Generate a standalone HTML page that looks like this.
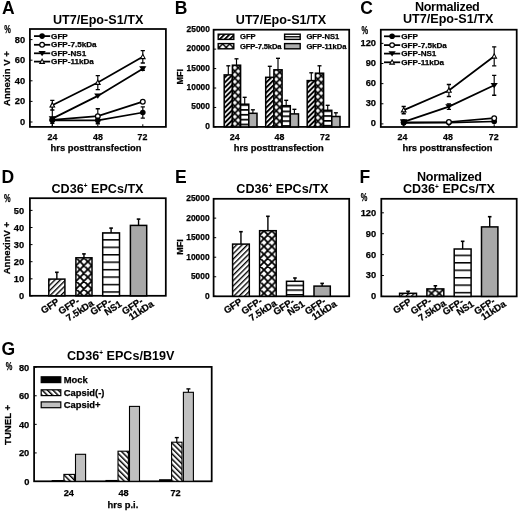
<!DOCTYPE html>
<html><head><meta charset="utf-8"><style>
html,body{margin:0;padding:0;background:#fff;}
svg{display:block;filter:blur(0.3px);font-family:"Liberation Sans", sans-serif;font-weight:bold;}
text{stroke:#000;stroke-width:0.25px;}
text.big{stroke:none;}
</style></head><body>
<svg width="520" height="511" viewBox="0 0 520 511">
<defs><clipPath id="c1"><rect x="29.8" y="28.8" width="136.29999999999998" height="97.2"/></clipPath><pattern id="p2" patternUnits="userSpaceOnUse" width="3.55" height="3.55" x="224.20" y="126.90" patternTransform="rotate(45 224.20 126.90)"><rect width="3.55" height="3.55" fill="#fff"/><rect width="1.95" height="3.55" fill="#000"/></pattern><pattern id="p3" patternUnits="userSpaceOnUse" width="7.0" height="7.0" x="234.75" y="67.70"><rect width="7.0" height="7.0" fill="#000"/><path d="M0,-2.3 L2.3,0 L0,2.3 L-2.3,0 Z M7.0,-2.3 L9.3,0 L7.0,2.3 L4.7,0 Z M0,4.7 L2.3,7.0 L0,9.3 L-2.3,7.0 Z M7.0,4.7 L9.3,7.0 L7.0,9.3 L4.7,7.0 Z M3.5,1.2000000000000002 L5.8,3.5 L3.5,5.8 L1.2000000000000002,3.5 Z" fill="#fff"/></pattern><pattern id="p4" patternUnits="userSpaceOnUse" width="20" height="4.85" x="0" y="104.20"><rect width="20" height="4.85" fill="#fff"/><rect width="20" height="1.7" fill="#000"/></pattern><pattern id="p5" patternUnits="userSpaceOnUse" width="3.55" height="3.55" x="265.70" y="126.90" patternTransform="rotate(45 265.70 126.90)"><rect width="3.55" height="3.55" fill="#fff"/><rect width="1.95" height="3.55" fill="#000"/></pattern><pattern id="p6" patternUnits="userSpaceOnUse" width="7.0" height="7.0" x="276.25" y="72.30"><rect width="7.0" height="7.0" fill="#000"/><path d="M0,-2.3 L2.3,0 L0,2.3 L-2.3,0 Z M7.0,-2.3 L9.3,0 L7.0,2.3 L4.7,0 Z M0,4.7 L2.3,7.0 L0,9.3 L-2.3,7.0 Z M7.0,4.7 L9.3,7.0 L7.0,9.3 L4.7,7.0 Z M3.5,1.2000000000000002 L5.8,3.5 L3.5,5.8 L1.2000000000000002,3.5 Z" fill="#fff"/></pattern><pattern id="p7" patternUnits="userSpaceOnUse" width="20" height="4.85" x="0" y="105.70"><rect width="20" height="4.85" fill="#fff"/><rect width="20" height="1.7" fill="#000"/></pattern><pattern id="p8" patternUnits="userSpaceOnUse" width="3.55" height="3.55" x="307.20" y="126.90" patternTransform="rotate(45 307.20 126.90)"><rect width="3.55" height="3.55" fill="#fff"/><rect width="1.95" height="3.55" fill="#000"/></pattern><pattern id="p9" patternUnits="userSpaceOnUse" width="7.0" height="7.0" x="317.75" y="75.70"><rect width="7.0" height="7.0" fill="#000"/><path d="M0,-2.3 L2.3,0 L0,2.3 L-2.3,0 Z M7.0,-2.3 L9.3,0 L7.0,2.3 L4.7,0 Z M0,4.7 L2.3,7.0 L0,9.3 L-2.3,7.0 Z M7.0,4.7 L9.3,7.0 L7.0,9.3 L4.7,7.0 Z M3.5,1.2000000000000002 L5.8,3.5 L3.5,5.8 L1.2000000000000002,3.5 Z" fill="#fff"/></pattern><pattern id="p10" patternUnits="userSpaceOnUse" width="20" height="4.85" x="0" y="110.30"><rect width="20" height="4.85" fill="#fff"/><rect width="20" height="1.7" fill="#000"/></pattern><pattern id="p11" patternUnits="userSpaceOnUse" width="3.55" height="3.55" x="218.20" y="39.40" patternTransform="rotate(45 218.20 39.40)"><rect width="3.55" height="3.55" fill="#fff"/><rect width="1.95" height="3.55" fill="#000"/></pattern><pattern id="p12" patternUnits="userSpaceOnUse" width="7.0" height="7.0" x="219.20" y="43.90"><rect width="7.0" height="7.0" fill="#000"/><path d="M0,-2.5 L2.5,0 L0,2.5 L-2.5,0 Z M7.0,-2.5 L9.5,0 L7.0,2.5 L4.5,0 Z M0,4.5 L2.5,7.0 L0,9.5 L-2.5,7.0 Z M7.0,4.5 L9.5,7.0 L7.0,9.5 L4.5,7.0 Z M3.5,1.0 L6.0,3.5 L3.5,6.0 L1.0,3.5 Z" fill="#fff"/></pattern><pattern id="p13" patternUnits="userSpaceOnUse" width="30" height="20" x="0" y="36.10"><rect width="30" height="20" fill="#fff"/><rect width="30" height="1.4" fill="#000"/></pattern><clipPath id="c14"><rect x="380.7" y="29.6" width="136.00000000000006" height="96.4"/></clipPath><pattern id="p15" patternUnits="userSpaceOnUse" width="3.8" height="3.8" x="48.80" y="295.80" patternTransform="rotate(45 48.80 295.80)"><rect width="3.8" height="3.8" fill="#fff"/><rect width="1.35" height="3.8" fill="#000"/></pattern><pattern id="p16" patternUnits="userSpaceOnUse" width="7.8" height="7.8" x="80.05" y="292.80"><rect width="7.8" height="7.8" fill="#fff"/><path d="M-7.8,-7.8 L15.6,15.6 M15.6,-7.8 L-7.8,15.6 M0,-7.8 L15.6,7.8 M-7.8,0 L7.8,15.6 M7.8,-7.8 L-7.8,7.8 M15.6,0 L0,15.6" stroke="#000" stroke-width="1.8"/></pattern><pattern id="p17" patternUnits="userSpaceOnUse" width="30" height="7.45" x="0" y="291.25"><rect width="30" height="7.45" fill="#fff"/><rect width="30" height="1.5" fill="#000"/></pattern><pattern id="p18" patternUnits="userSpaceOnUse" width="3.8" height="3.8" x="232.60" y="296.30" patternTransform="rotate(45 232.60 296.30)"><rect width="3.8" height="3.8" fill="#fff"/><rect width="1.35" height="3.8" fill="#000"/></pattern><pattern id="p19" patternUnits="userSpaceOnUse" width="7.8" height="7.8" x="264.00" y="293.30"><rect width="7.8" height="7.8" fill="#fff"/><path d="M-7.8,-7.8 L15.6,15.6 M15.6,-7.8 L-7.8,15.6 M0,-7.8 L15.6,7.8 M-7.8,0 L7.8,15.6 M7.8,-7.8 L-7.8,7.8 M15.6,0 L0,15.6" stroke="#000" stroke-width="1.8"/></pattern><pattern id="p20" patternUnits="userSpaceOnUse" width="30" height="4.7" x="0" y="294.05"><rect width="30" height="4.7" fill="#fff"/><rect width="30" height="1.5" fill="#000"/></pattern><pattern id="p21" patternUnits="userSpaceOnUse" width="3.8" height="3.8" x="399.60" y="296.40" patternTransform="rotate(45 399.60 296.40)"><rect width="3.8" height="3.8" fill="#fff"/><rect width="1.35" height="3.8" fill="#000"/></pattern><pattern id="p22" patternUnits="userSpaceOnUse" width="7.8" height="7.8" x="431.45" y="293.40"><rect width="7.8" height="7.8" fill="#fff"/><path d="M-7.8,-7.8 L15.6,15.6 M15.6,-7.8 L-7.8,15.6 M0,-7.8 L15.6,7.8 M-7.8,0 L7.8,15.6 M7.8,-7.8 L-7.8,7.8 M15.6,0 L0,15.6" stroke="#000" stroke-width="1.8"/></pattern><pattern id="p23" patternUnits="userSpaceOnUse" width="30" height="7.45" x="0" y="291.85"><rect width="30" height="7.45" fill="#fff"/><rect width="30" height="1.5" fill="#000"/></pattern><pattern id="p24" patternUnits="userSpaceOnUse" width="3.8" height="3.8" x="63.90" y="481.30" patternTransform="rotate(-45 63.90 481.30)"><rect width="3.8" height="3.8" fill="#fff"/><rect width="1.45" height="3.8" fill="#000"/></pattern><pattern id="p25" patternUnits="userSpaceOnUse" width="3.8" height="3.8" x="118.00" y="481.30" patternTransform="rotate(-45 118.00 481.30)"><rect width="3.8" height="3.8" fill="#fff"/><rect width="1.45" height="3.8" fill="#000"/></pattern><pattern id="p26" patternUnits="userSpaceOnUse" width="3.8" height="3.8" x="171.60" y="481.30" patternTransform="rotate(-45 171.60 481.30)"><rect width="3.8" height="3.8" fill="#fff"/><rect width="1.45" height="3.8" fill="#000"/></pattern><pattern id="p27" patternUnits="userSpaceOnUse" width="3.8" height="3.8" x="41.20" y="395.60" patternTransform="rotate(-45 41.20 395.60)"><rect width="3.8" height="3.8" fill="#fff"/><rect width="1.45" height="3.8" fill="#000"/></pattern></defs>
<rect width="520" height="511" fill="#fff"/>
<text class="big" x="1.9" y="13.7" font-size="17.5" text-anchor="start" >A</text>
<text class="big" x="98.1" y="24" font-size="12.6" text-anchor="middle" textLength="90.4" lengthAdjust="spacing" >UT7/Epo-S1/TX</text>
<text x="4.2" y="33.4" font-size="10" text-anchor="start" textLength="6.6" lengthAdjust="spacingAndGlyphs" >%</text>
<rect x="29.9" y="29.0" width="136.00" height="97.90" fill="none" stroke="#000" stroke-width="1.75"/>
<line x1="29.9" y1="122.00" x2="32.5" y2="122.00" stroke="#000" stroke-width="1"/>
<text x="25.1" y="125.05" font-size="9.3" text-anchor="end" >0</text>
<line x1="29.9" y1="101.40" x2="32.5" y2="101.40" stroke="#000" stroke-width="1"/>
<text x="25.1" y="104.45" font-size="9.3" text-anchor="end" >20</text>
<line x1="29.9" y1="80.80" x2="32.5" y2="80.80" stroke="#000" stroke-width="1"/>
<text x="25.1" y="83.85" font-size="9.3" text-anchor="end" >40</text>
<line x1="29.9" y1="60.20" x2="32.5" y2="60.20" stroke="#000" stroke-width="1"/>
<text x="25.1" y="63.25" font-size="9.3" text-anchor="end" >60</text>
<line x1="29.9" y1="39.60" x2="32.5" y2="39.60" stroke="#000" stroke-width="1"/>
<text x="25.1" y="42.65" font-size="9.3" text-anchor="end" >80</text>
<text x="52.4" y="140.2" font-size="8.8" text-anchor="middle" >24</text>
<text x="97.9" y="140.2" font-size="8.8" text-anchor="middle" >48</text>
<text x="142.4" y="140.2" font-size="8.8" text-anchor="middle" >72</text>
<line x1="52.3" y1="126.9" x2="52.3" y2="124.30000000000001" stroke="#000" stroke-width="1"/>
<line x1="97.8" y1="126.9" x2="97.8" y2="124.30000000000001" stroke="#000" stroke-width="1"/>
<line x1="142.8" y1="126.9" x2="142.8" y2="124.30000000000001" stroke="#000" stroke-width="1"/>
<text x="96.1" y="150.5" font-size="9.4" text-anchor="middle" textLength="91" lengthAdjust="spacing" >hrs posttransfection</text>
<text transform="translate(9.9,78.6) rotate(-90)" font-size="9.5" text-anchor="middle">Annexin V +</text>
<g clip-path="url(#c1)">
<polyline points="52.3,120.3 97.8,120.3 142.8,112.5" fill="none" stroke="#000" stroke-width="1.75"/>
<polyline points="52.3,119.8 97.8,116.2 142.8,101.7" fill="none" stroke="#000" stroke-width="1.75"/>
<polyline points="52.3,118.6 97.8,95.9 142.8,68.7" fill="none" stroke="#000" stroke-width="1.75"/>
<polyline points="52.3,105.2 97.8,82.6 142.8,56.8" fill="none" stroke="#000" stroke-width="1.75"/>
<line x1="52.30" y1="120.30" x2="52.30" y2="117.30" stroke="#000" stroke-width="1.15"/>
<line x1="50.20" y1="117.30" x2="54.40" y2="117.30" stroke="#000" stroke-width="1.3499999999999999"/>
<line x1="52.30" y1="120.30" x2="52.30" y2="123.30" stroke="#000" stroke-width="1.15"/>
<line x1="50.20" y1="123.30" x2="54.40" y2="123.30" stroke="#000" stroke-width="1.3499999999999999"/>
<line x1="97.80" y1="120.30" x2="97.80" y2="118.80" stroke="#000" stroke-width="1.15"/>
<line x1="95.70" y1="118.80" x2="99.90" y2="118.80" stroke="#000" stroke-width="1.3499999999999999"/>
<line x1="97.80" y1="120.30" x2="97.80" y2="121.80" stroke="#000" stroke-width="1.15"/>
<line x1="95.70" y1="121.80" x2="99.90" y2="121.80" stroke="#000" stroke-width="1.3499999999999999"/>
<line x1="142.80" y1="112.50" x2="142.80" y2="106.90" stroke="#000" stroke-width="1.15"/>
<line x1="140.70" y1="106.90" x2="144.90" y2="106.90" stroke="#000" stroke-width="1.3499999999999999"/>
<line x1="142.80" y1="112.50" x2="142.80" y2="118.10" stroke="#000" stroke-width="1.15"/>
<line x1="140.70" y1="118.10" x2="144.90" y2="118.10" stroke="#000" stroke-width="1.3499999999999999"/>
<line x1="97.80" y1="116.20" x2="97.80" y2="108.70" stroke="#000" stroke-width="1.15"/>
<line x1="95.70" y1="108.70" x2="99.90" y2="108.70" stroke="#000" stroke-width="1.3499999999999999"/>
<line x1="97.80" y1="116.20" x2="97.80" y2="123.70" stroke="#000" stroke-width="1.15"/>
<line x1="95.70" y1="123.70" x2="99.90" y2="123.70" stroke="#000" stroke-width="1.3499999999999999"/>
<line x1="52.30" y1="118.60" x2="52.30" y2="106.60" stroke="#000" stroke-width="1.15"/>
<line x1="50.20" y1="106.60" x2="54.40" y2="106.60" stroke="#000" stroke-width="1.3499999999999999"/>
<line x1="52.30" y1="118.60" x2="52.30" y2="130.60" stroke="#000" stroke-width="1.15"/>
<line x1="50.20" y1="130.60" x2="54.40" y2="130.60" stroke="#000" stroke-width="1.3499999999999999"/>
<line x1="142.80" y1="68.70" x2="142.80" y2="67.20" stroke="#000" stroke-width="1.15"/>
<line x1="140.70" y1="67.20" x2="144.90" y2="67.20" stroke="#000" stroke-width="1.3499999999999999"/>
<line x1="142.80" y1="68.70" x2="142.80" y2="70.20" stroke="#000" stroke-width="1.15"/>
<line x1="140.70" y1="70.20" x2="144.90" y2="70.20" stroke="#000" stroke-width="1.3499999999999999"/>
<line x1="52.30" y1="105.20" x2="52.30" y2="100.40" stroke="#000" stroke-width="1.15"/>
<line x1="50.20" y1="100.40" x2="54.40" y2="100.40" stroke="#000" stroke-width="1.3499999999999999"/>
<line x1="52.30" y1="105.20" x2="52.30" y2="110.00" stroke="#000" stroke-width="1.15"/>
<line x1="50.20" y1="110.00" x2="54.40" y2="110.00" stroke="#000" stroke-width="1.3499999999999999"/>
<line x1="97.80" y1="82.60" x2="97.80" y2="75.60" stroke="#000" stroke-width="1.15"/>
<line x1="95.70" y1="75.60" x2="99.90" y2="75.60" stroke="#000" stroke-width="1.3499999999999999"/>
<line x1="97.80" y1="82.60" x2="97.80" y2="89.60" stroke="#000" stroke-width="1.15"/>
<line x1="95.70" y1="89.60" x2="99.90" y2="89.60" stroke="#000" stroke-width="1.3499999999999999"/>
<line x1="142.80" y1="56.80" x2="142.80" y2="50.60" stroke="#000" stroke-width="1.15"/>
<line x1="140.70" y1="50.60" x2="144.90" y2="50.60" stroke="#000" stroke-width="1.3499999999999999"/>
<line x1="142.80" y1="56.80" x2="142.80" y2="63.00" stroke="#000" stroke-width="1.15"/>
<line x1="140.70" y1="63.00" x2="144.90" y2="63.00" stroke="#000" stroke-width="1.3499999999999999"/>
<circle cx="52.3" cy="119.8" r="2.3499999999999996" fill="#fff" stroke="#000" stroke-width="1.25"/>
<circle cx="97.8" cy="116.2" r="2.3499999999999996" fill="#fff" stroke="#000" stroke-width="1.25"/>
<circle cx="142.8" cy="101.7" r="2.3499999999999996" fill="#fff" stroke="#000" stroke-width="1.25"/>
<path d="M50.00,107.01 L54.60,107.01 L52.3,102.71 Z" fill="#fff" stroke="#000" stroke-width="1.1"/>
<path d="M95.50,84.41 L100.10,84.41 L97.8,80.11 Z" fill="#fff" stroke="#000" stroke-width="1.1"/>
<path d="M140.50,58.61 L145.10,58.61 L142.8,54.31 Z" fill="#fff" stroke="#000" stroke-width="1.1"/>
<path d="M48.66,116.21 L55.94,116.21 L52.3,121.53 Z" fill="#000"/>
<path d="M94.16,93.51 L101.44,93.51 L97.8,98.83 Z" fill="#000"/>
<path d="M139.16,66.31 L146.44,66.31 L142.8,71.63 Z" fill="#000"/>
<circle cx="52.3" cy="120.3" r="2.8" fill="#000"/>
<circle cx="97.8" cy="120.3" r="2.8" fill="#000"/>
<circle cx="142.8" cy="112.5" r="2.8" fill="#000"/>
</g>
<line x1="34" y1="36.1" x2="50.2" y2="36.1" stroke="#000" stroke-width="1.75"/>
<circle cx="42.1" cy="36.1" r="2.8" fill="#000"/>
<text x="51.1" y="38.5" font-size="8.1" text-anchor="start" >GFP</text>
<line x1="34" y1="44.8" x2="50.2" y2="44.8" stroke="#000" stroke-width="1.75"/>
<circle cx="42.1" cy="44.8" r="2.3499999999999996" fill="#fff" stroke="#000" stroke-width="1.25"/>
<text x="51.1" y="47.2" font-size="8.1" text-anchor="start" >GFP-7.5kDa</text>
<line x1="34" y1="53.3" x2="50.2" y2="53.3" stroke="#000" stroke-width="1.75"/>
<path d="M38.46,50.91 L45.74,50.91 L42.1,56.23 Z" fill="#000"/>
<text x="51.1" y="55.7" font-size="8.1" text-anchor="start" >GFP-NS1</text>
<line x1="34" y1="61.6" x2="50.2" y2="61.6" stroke="#000" stroke-width="1.75"/>
<path d="M39.80,63.41 L44.40,63.41 L42.1,59.11 Z" fill="#fff" stroke="#000" stroke-width="1.1"/>
<text x="51.1" y="64.0" font-size="8.1" text-anchor="start" >GFP-11kDa</text>
<text class="big" x="174.8" y="13.85" font-size="17.5" text-anchor="start" >B</text>
<text class="big" x="281.0" y="23.6" font-size="12.6" text-anchor="middle" textLength="90.4" lengthAdjust="spacing" >UT7/Epo-S1/TX</text>
<rect x="213.6" y="29.7" width="135.60" height="97.20" fill="none" stroke="#000" stroke-width="1.75"/>
<line x1="213.6" y1="126.90" x2="216.2" y2="126.90" stroke="#000" stroke-width="1"/>
<text x="209.9" y="128.92" font-size="8.4" text-anchor="end" >0</text>
<line x1="213.6" y1="107.46" x2="216.2" y2="107.46" stroke="#000" stroke-width="1"/>
<text x="209.9" y="109.48" font-size="8.4" text-anchor="end" >5000</text>
<line x1="213.6" y1="88.02" x2="216.2" y2="88.02" stroke="#000" stroke-width="1"/>
<text x="209.9" y="90.04" font-size="8.4" text-anchor="end" >10000</text>
<line x1="213.6" y1="68.58" x2="216.2" y2="68.58" stroke="#000" stroke-width="1"/>
<text x="209.9" y="70.6" font-size="8.4" text-anchor="end" >15000</text>
<line x1="213.6" y1="49.14" x2="216.2" y2="49.14" stroke="#000" stroke-width="1"/>
<text x="209.9" y="51.16" font-size="8.4" text-anchor="end" >20000</text>
<line x1="213.6" y1="29.70" x2="216.2" y2="29.70" stroke="#000" stroke-width="1"/>
<text x="209.9" y="31.72" font-size="8.4" text-anchor="end" >25000</text>
<text transform="translate(183.3,76.8) rotate(-90)" font-size="9" text-anchor="middle">MFI</text>
<text x="234.75" y="140.1" font-size="8.8" text-anchor="middle" >24</text>
<text x="279.5" y="140.1" font-size="8.8" text-anchor="middle" >48</text>
<text x="325.0" y="140.1" font-size="8.8" text-anchor="middle" >72</text>
<line x1="240.6" y1="126.9" x2="240.6" y2="124.30000000000001" stroke="#000" stroke-width="1"/>
<line x1="282.1" y1="126.9" x2="282.1" y2="124.30000000000001" stroke="#000" stroke-width="1"/>
<line x1="323.6" y1="126.9" x2="323.6" y2="124.30000000000001" stroke="#000" stroke-width="1"/>
<text x="278.75" y="150.5" font-size="9.4" text-anchor="middle" textLength="90" lengthAdjust="spacing" >hrs posttransfection</text>
<line x1="228.30" y1="74.90" x2="228.30" y2="65.80" stroke="#000" stroke-width="1.15"/>
<line x1="226.30" y1="65.80" x2="230.30" y2="65.80" stroke="#000" stroke-width="1.3499999999999999"/>
<rect x="224.20" y="74.90" width="8.20" height="52.00" fill="url(#p2)" stroke="#000" stroke-width="1.5"/>
<line x1="236.50" y1="65.20" x2="236.50" y2="58.80" stroke="#000" stroke-width="1.15"/>
<line x1="234.50" y1="58.80" x2="238.50" y2="58.80" stroke="#000" stroke-width="1.3499999999999999"/>
<rect x="232.40" y="65.20" width="8.20" height="61.70" fill="url(#p3)" stroke="#000" stroke-width="1.5"/>
<line x1="244.70" y1="104.20" x2="244.70" y2="97.30" stroke="#000" stroke-width="1.15"/>
<line x1="242.70" y1="97.30" x2="246.70" y2="97.30" stroke="#000" stroke-width="1.3499999999999999"/>
<rect x="240.60" y="104.20" width="8.20" height="22.70" fill="url(#p4)" stroke="#000" stroke-width="1.5"/>
<line x1="252.90" y1="113.30" x2="252.90" y2="109.80" stroke="#000" stroke-width="1.15"/>
<line x1="250.90" y1="109.80" x2="254.90" y2="109.80" stroke="#000" stroke-width="1.3499999999999999"/>
<rect x="248.80" y="113.30" width="8.20" height="13.60" fill="#adadad" stroke="#000" stroke-width="1.5"/>
<line x1="269.80" y1="77.30" x2="269.80" y2="66.30" stroke="#000" stroke-width="1.15"/>
<line x1="267.80" y1="66.30" x2="271.80" y2="66.30" stroke="#000" stroke-width="1.3499999999999999"/>
<rect x="265.70" y="77.30" width="8.20" height="49.60" fill="url(#p5)" stroke="#000" stroke-width="1.5"/>
<line x1="278.00" y1="69.80" x2="278.00" y2="58.30" stroke="#000" stroke-width="1.15"/>
<line x1="276.00" y1="58.30" x2="280.00" y2="58.30" stroke="#000" stroke-width="1.3499999999999999"/>
<rect x="273.90" y="69.80" width="8.20" height="57.10" fill="url(#p6)" stroke="#000" stroke-width="1.5"/>
<line x1="286.20" y1="105.70" x2="286.20" y2="100.30" stroke="#000" stroke-width="1.15"/>
<line x1="284.20" y1="100.30" x2="288.20" y2="100.30" stroke="#000" stroke-width="1.3499999999999999"/>
<rect x="282.10" y="105.70" width="8.20" height="21.20" fill="url(#p7)" stroke="#000" stroke-width="1.5"/>
<line x1="294.40" y1="113.90" x2="294.40" y2="109.30" stroke="#000" stroke-width="1.15"/>
<line x1="292.40" y1="109.30" x2="296.40" y2="109.30" stroke="#000" stroke-width="1.3499999999999999"/>
<rect x="290.30" y="113.90" width="8.20" height="13.00" fill="#adadad" stroke="#000" stroke-width="1.5"/>
<line x1="311.30" y1="80.60" x2="311.30" y2="72.80" stroke="#000" stroke-width="1.15"/>
<line x1="309.30" y1="72.80" x2="313.30" y2="72.80" stroke="#000" stroke-width="1.3499999999999999"/>
<rect x="307.20" y="80.60" width="8.20" height="46.30" fill="url(#p8)" stroke="#000" stroke-width="1.5"/>
<line x1="319.50" y1="73.20" x2="319.50" y2="65.80" stroke="#000" stroke-width="1.15"/>
<line x1="317.50" y1="65.80" x2="321.50" y2="65.80" stroke="#000" stroke-width="1.3499999999999999"/>
<rect x="315.40" y="73.20" width="8.20" height="53.70" fill="url(#p9)" stroke="#000" stroke-width="1.5"/>
<line x1="327.70" y1="110.30" x2="327.70" y2="105.30" stroke="#000" stroke-width="1.15"/>
<line x1="325.70" y1="105.30" x2="329.70" y2="105.30" stroke="#000" stroke-width="1.3499999999999999"/>
<rect x="323.60" y="110.30" width="8.20" height="16.60" fill="url(#p10)" stroke="#000" stroke-width="1.5"/>
<line x1="335.90" y1="116.50" x2="335.90" y2="112.80" stroke="#000" stroke-width="1.15"/>
<line x1="333.90" y1="112.80" x2="337.90" y2="112.80" stroke="#000" stroke-width="1.3499999999999999"/>
<rect x="331.80" y="116.50" width="8.20" height="10.40" fill="#adadad" stroke="#000" stroke-width="1.5"/>
<rect x="218.20" y="34.20" width="15.60" height="5.20" fill="url(#p11)" stroke="#000" stroke-width="1.4"/>
<text x="240.0" y="39.4" font-size="7.6" text-anchor="start" >GFP</text>
<rect x="218.20" y="43.60" width="15.60" height="5.20" fill="url(#p12)" stroke="#000" stroke-width="1.4"/>
<text x="240.0" y="48.8" font-size="7.6" text-anchor="start" textLength="41.5" lengthAdjust="spacing" >GFP-7.5kDa</text>
<rect x="284.60" y="34.20" width="15.60" height="5.20" fill="url(#p13)" stroke="#000" stroke-width="1.4"/>
<text x="306.4" y="39.4" font-size="7.6" text-anchor="start" >GFP-NS1</text>
<rect x="284.60" y="43.60" width="15.60" height="5.20" fill="#adadad" stroke="#000" stroke-width="1.4"/>
<text x="306.4" y="48.8" font-size="7.6" text-anchor="start" textLength="40" lengthAdjust="spacing" >GFP-11kDa</text>
<text class="big" x="360.2" y="13.7" font-size="17.5" text-anchor="start" >C</text>
<text class="big" x="447.4" y="10.8" font-size="12.6" text-anchor="middle" textLength="64.8" lengthAdjust="spacing" >Normalized</text>
<text class="big" x="448.1" y="22.8" font-size="12.6" text-anchor="middle" textLength="90.4" lengthAdjust="spacing" >UT7/Epo-S1/TX</text>
<text x="361.5" y="33.8" font-size="10" text-anchor="start" textLength="6.6" lengthAdjust="spacingAndGlyphs" >%</text>
<rect x="380.8" y="29.7" width="135.90" height="97.30" fill="none" stroke="#000" stroke-width="1.75"/>
<line x1="380.8" y1="123.90" x2="383.40000000000003" y2="123.90" stroke="#000" stroke-width="1"/>
<text x="376.0" y="126.35" font-size="9.3" text-anchor="end" >0</text>
<line x1="380.8" y1="103.77" x2="383.40000000000003" y2="103.77" stroke="#000" stroke-width="1"/>
<text x="376.0" y="106.22" font-size="9.3" text-anchor="end" >30</text>
<line x1="380.8" y1="83.64" x2="383.40000000000003" y2="83.64" stroke="#000" stroke-width="1"/>
<text x="376.0" y="86.09" font-size="9.3" text-anchor="end" >60</text>
<line x1="380.8" y1="63.51" x2="383.40000000000003" y2="63.51" stroke="#000" stroke-width="1"/>
<text x="376.0" y="65.96" font-size="9.3" text-anchor="end" >90</text>
<line x1="380.8" y1="43.38" x2="383.40000000000003" y2="43.38" stroke="#000" stroke-width="1"/>
<text x="376.0" y="45.83" font-size="9.3" text-anchor="end" >120</text>
<text x="402.5" y="140.1" font-size="8.8" text-anchor="middle" >24</text>
<text x="448.0" y="140.1" font-size="8.8" text-anchor="middle" >48</text>
<text x="493.75" y="140.1" font-size="8.8" text-anchor="middle" >72</text>
<line x1="403.7" y1="127.0" x2="403.7" y2="124.4" stroke="#000" stroke-width="1"/>
<line x1="448.9" y1="127.0" x2="448.9" y2="124.4" stroke="#000" stroke-width="1"/>
<line x1="494.2" y1="127.0" x2="494.2" y2="124.4" stroke="#000" stroke-width="1"/>
<text x="447.5" y="150.5" font-size="9.4" text-anchor="middle" textLength="90" lengthAdjust="spacing" >hrs posttransfection</text>
<g clip-path="url(#c14)">
<polyline points="403.7,122.8 448.9,122.6 494.2,121.5" fill="none" stroke="#000" stroke-width="1.75"/>
<polyline points="403.7,122.3 448.9,122.0 494.2,118.2" fill="none" stroke="#000" stroke-width="1.75"/>
<polyline points="403.7,121.9 448.9,106.6 494.2,85.3" fill="none" stroke="#000" stroke-width="1.75"/>
<polyline points="403.7,110.1 448.9,90.5 494.2,56.3" fill="none" stroke="#000" stroke-width="1.75"/>
<line x1="448.90" y1="106.60" x2="448.90" y2="103.80" stroke="#000" stroke-width="1.15"/>
<line x1="446.80" y1="103.80" x2="451.00" y2="103.80" stroke="#000" stroke-width="1.3499999999999999"/>
<line x1="448.90" y1="106.60" x2="448.90" y2="109.40" stroke="#000" stroke-width="1.15"/>
<line x1="446.80" y1="109.40" x2="451.00" y2="109.40" stroke="#000" stroke-width="1.3499999999999999"/>
<line x1="494.20" y1="85.30" x2="494.20" y2="75.40" stroke="#000" stroke-width="1.15"/>
<line x1="492.10" y1="75.40" x2="496.30" y2="75.40" stroke="#000" stroke-width="1.3499999999999999"/>
<line x1="494.20" y1="85.30" x2="494.20" y2="95.20" stroke="#000" stroke-width="1.15"/>
<line x1="492.10" y1="95.20" x2="496.30" y2="95.20" stroke="#000" stroke-width="1.3499999999999999"/>
<line x1="403.70" y1="110.10" x2="403.70" y2="106.50" stroke="#000" stroke-width="1.15"/>
<line x1="401.60" y1="106.50" x2="405.80" y2="106.50" stroke="#000" stroke-width="1.3499999999999999"/>
<line x1="403.70" y1="110.10" x2="403.70" y2="113.70" stroke="#000" stroke-width="1.15"/>
<line x1="401.60" y1="113.70" x2="405.80" y2="113.70" stroke="#000" stroke-width="1.3499999999999999"/>
<line x1="448.90" y1="90.50" x2="448.90" y2="84.50" stroke="#000" stroke-width="1.15"/>
<line x1="446.80" y1="84.50" x2="451.00" y2="84.50" stroke="#000" stroke-width="1.3499999999999999"/>
<line x1="448.90" y1="90.50" x2="448.90" y2="96.50" stroke="#000" stroke-width="1.15"/>
<line x1="446.80" y1="96.50" x2="451.00" y2="96.50" stroke="#000" stroke-width="1.3499999999999999"/>
<line x1="494.20" y1="56.30" x2="494.20" y2="46.80" stroke="#000" stroke-width="1.15"/>
<line x1="492.10" y1="46.80" x2="496.30" y2="46.80" stroke="#000" stroke-width="1.3499999999999999"/>
<line x1="494.20" y1="56.30" x2="494.20" y2="65.80" stroke="#000" stroke-width="1.15"/>
<line x1="492.10" y1="65.80" x2="496.30" y2="65.80" stroke="#000" stroke-width="1.3499999999999999"/>
<circle cx="403.7" cy="122.8" r="2.8" fill="#000"/>
<circle cx="448.9" cy="122.6" r="2.8" fill="#000"/>
<circle cx="494.2" cy="121.5" r="2.8" fill="#000"/>
<path d="M401.40,111.91 L406.00,111.91 L403.7,107.61 Z" fill="#fff" stroke="#000" stroke-width="1.1"/>
<path d="M446.60,92.31 L451.20,92.31 L448.9,88.01 Z" fill="#fff" stroke="#000" stroke-width="1.1"/>
<path d="M491.90,58.11 L496.50,58.11 L494.2,53.81 Z" fill="#fff" stroke="#000" stroke-width="1.1"/>
<path d="M400.06,119.51 L407.34,119.51 L403.7,124.83 Z" fill="#000"/>
<path d="M445.26,104.21 L452.54,104.21 L448.9,109.53 Z" fill="#000"/>
<path d="M490.56,82.91 L497.84,82.91 L494.2,88.23 Z" fill="#000"/>
<circle cx="403.7" cy="122.3" r="2.3499999999999996" fill="#fff" stroke="#000" stroke-width="1.25"/>
<circle cx="448.9" cy="122.0" r="2.3499999999999996" fill="#fff" stroke="#000" stroke-width="1.25"/>
<circle cx="494.2" cy="118.2" r="2.3499999999999996" fill="#fff" stroke="#000" stroke-width="1.25"/>
</g>
<path d="M400.06,119.51 L407.34,119.51 L403.7,124.83 Z" fill="#000"/>
<circle cx="403.7" cy="122.6" r="2.8" fill="#000"/>
<line x1="384" y1="36.3" x2="400.2" y2="36.3" stroke="#000" stroke-width="1.75"/>
<circle cx="392.1" cy="36.3" r="2.8" fill="#000"/>
<text x="401.3" y="38.7" font-size="8.1" text-anchor="start" >GFP</text>
<line x1="384" y1="45.1" x2="400.2" y2="45.1" stroke="#000" stroke-width="1.75"/>
<circle cx="392.1" cy="45.1" r="2.3499999999999996" fill="#fff" stroke="#000" stroke-width="1.25"/>
<text x="401.3" y="47.5" font-size="8.1" text-anchor="start" >GFP-7.5kDa</text>
<line x1="384" y1="53.6" x2="400.2" y2="53.6" stroke="#000" stroke-width="1.75"/>
<path d="M388.46,51.21 L395.74,51.21 L392.1,56.53 Z" fill="#000"/>
<text x="401.3" y="56.0" font-size="8.1" text-anchor="start" >GFP-NS1</text>
<line x1="384" y1="62.3" x2="400.2" y2="62.3" stroke="#000" stroke-width="1.75"/>
<path d="M389.80,64.11 L394.40,64.11 L392.1,59.81 Z" fill="#fff" stroke="#000" stroke-width="1.1"/>
<text x="401.3" y="64.7" font-size="8.1" text-anchor="start" >GFP-11kDa</text>
<text class="big" x="1.6" y="182.7" font-size="17.5" text-anchor="start" >D</text>
<text class="big" x="97.5" y="192.9" font-size="12.6" text-anchor="middle">CD36<tspan font-size="6.5" dy="-4.8">+</tspan><tspan dy="4.8"> EPCs/TX</tspan></text>
<text x="4.0" y="201.6" font-size="10" text-anchor="start" textLength="6.6" lengthAdjust="spacingAndGlyphs" >%</text>
<rect x="29.9" y="198.2" width="135.90" height="97.60" fill="none" stroke="#000" stroke-width="1.75"/>
<line x1="29.9" y1="295.90" x2="32.5" y2="295.90" stroke="#000" stroke-width="1"/>
<text x="24.2" y="299.15" font-size="9.3" text-anchor="end" >0</text>
<line x1="29.9" y1="278.80" x2="32.5" y2="278.80" stroke="#000" stroke-width="1"/>
<text x="24.2" y="282.05" font-size="9.3" text-anchor="end" >10</text>
<line x1="29.9" y1="261.70" x2="32.5" y2="261.70" stroke="#000" stroke-width="1"/>
<text x="24.2" y="264.95" font-size="9.3" text-anchor="end" >20</text>
<line x1="29.9" y1="244.60" x2="32.5" y2="244.60" stroke="#000" stroke-width="1"/>
<text x="24.2" y="247.85" font-size="9.3" text-anchor="end" >30</text>
<line x1="29.9" y1="227.50" x2="32.5" y2="227.50" stroke="#000" stroke-width="1"/>
<text x="24.2" y="230.75" font-size="9.3" text-anchor="end" >40</text>
<line x1="29.9" y1="210.40" x2="32.5" y2="210.40" stroke="#000" stroke-width="1"/>
<text x="24.2" y="213.65" font-size="9.3" text-anchor="end" >50</text>
<text transform="translate(10.0,248.1) rotate(-90)" font-size="9.6" text-anchor="middle">AnnexinV +</text>
<line x1="56.85" y1="279.10" x2="56.85" y2="272.30" stroke="#000" stroke-width="1.4"/>
<line x1="55.05" y1="272.30" x2="58.65" y2="272.30" stroke="#000" stroke-width="1.5999999999999999"/>
<rect x="48.80" y="279.10" width="16.10" height="16.70" fill="url(#p15)" stroke="#000" stroke-width="1.5"/>
<line x1="83.95" y1="257.80" x2="83.95" y2="253.90" stroke="#000" stroke-width="1.4"/>
<line x1="82.15" y1="253.90" x2="85.75" y2="253.90" stroke="#000" stroke-width="1.5999999999999999"/>
<rect x="75.90" y="257.80" width="16.10" height="38.00" fill="url(#p16)" stroke="#000" stroke-width="1.5"/>
<line x1="111.10" y1="232.90" x2="111.10" y2="228.10" stroke="#000" stroke-width="1.4"/>
<line x1="109.30" y1="228.10" x2="112.90" y2="228.10" stroke="#000" stroke-width="1.5999999999999999"/>
<rect x="102.70" y="232.90" width="16.80" height="62.90" fill="url(#p17)" stroke="#000" stroke-width="1.5"/>
<line x1="138.55" y1="225.40" x2="138.55" y2="219.10" stroke="#000" stroke-width="1.4"/>
<line x1="136.75" y1="219.10" x2="140.35" y2="219.10" stroke="#000" stroke-width="1.5999999999999999"/>
<rect x="130.40" y="225.40" width="16.30" height="70.40" fill="#a8a8a8" stroke="#000" stroke-width="1.5"/>
<text transform="translate(43.5,314.0) rotate(-33)" font-size="9.5">GFP</text>
<text transform="translate(61.0,314.8) rotate(-33)" font-size="9.5">GFP-</text>
<text transform="translate(68.8,321.5) rotate(-33)" font-size="9.5">7.5kDa</text>
<text transform="translate(93.0,315.5) rotate(-33)" font-size="9.5">GFP-</text>
<text transform="translate(107.0,315.8) rotate(-33)" font-size="9.5">NS1</text>
<text transform="translate(124.5,315.0) rotate(-33)" font-size="9.5">GFP-</text>
<text transform="translate(131.5,320.5) rotate(-33)" font-size="9.5">11kDa</text>
<text class="big" x="175.0" y="183.0" font-size="17.5" text-anchor="start" >E</text>
<text class="big" x="282.3" y="192.6" font-size="12.6" text-anchor="middle">CD36<tspan font-size="6.5" dy="-4.8">+</tspan><tspan dy="4.8"> EPCs/TX</tspan></text>
<rect x="213.6" y="198.8" width="135.60" height="97.50" fill="none" stroke="#000" stroke-width="1.75"/>
<line x1="213.6" y1="296.30" x2="216.2" y2="296.30" stroke="#000" stroke-width="1"/>
<text x="209.6" y="298.92" font-size="8.4" text-anchor="end" >0</text>
<line x1="213.6" y1="276.76" x2="216.2" y2="276.76" stroke="#000" stroke-width="1"/>
<text x="209.6" y="279.38" font-size="8.4" text-anchor="end" >5000</text>
<line x1="213.6" y1="257.22" x2="216.2" y2="257.22" stroke="#000" stroke-width="1"/>
<text x="209.6" y="259.84" font-size="8.4" text-anchor="end" >10000</text>
<line x1="213.6" y1="237.68" x2="216.2" y2="237.68" stroke="#000" stroke-width="1"/>
<text x="209.6" y="240.3" font-size="8.4" text-anchor="end" >15000</text>
<line x1="213.6" y1="218.14" x2="216.2" y2="218.14" stroke="#000" stroke-width="1"/>
<text x="209.6" y="220.76" font-size="8.4" text-anchor="end" >20000</text>
<line x1="213.6" y1="198.60" x2="216.2" y2="198.60" stroke="#000" stroke-width="1"/>
<text x="209.6" y="201.22" font-size="8.4" text-anchor="end" >25000</text>
<text transform="translate(183.2,247) rotate(-90)" font-size="9" text-anchor="middle">MFI</text>
<line x1="240.95" y1="244.10" x2="240.95" y2="231.70" stroke="#000" stroke-width="1.4"/>
<line x1="239.15" y1="231.70" x2="242.75" y2="231.70" stroke="#000" stroke-width="1.5999999999999999"/>
<rect x="232.60" y="244.10" width="16.70" height="52.20" fill="url(#p18)" stroke="#000" stroke-width="1.5"/>
<line x1="267.90" y1="230.70" x2="267.90" y2="216.30" stroke="#000" stroke-width="1.4"/>
<line x1="266.10" y1="216.30" x2="269.70" y2="216.30" stroke="#000" stroke-width="1.5999999999999999"/>
<rect x="259.60" y="230.70" width="16.60" height="65.60" fill="url(#p19)" stroke="#000" stroke-width="1.5"/>
<line x1="294.95" y1="281.30" x2="294.95" y2="278.00" stroke="#000" stroke-width="1.4"/>
<line x1="293.15" y1="278.00" x2="296.75" y2="278.00" stroke="#000" stroke-width="1.5999999999999999"/>
<rect x="286.50" y="281.30" width="16.90" height="15.00" fill="url(#p20)" stroke="#000" stroke-width="1.5"/>
<line x1="322.15" y1="286.10" x2="322.15" y2="283.40" stroke="#000" stroke-width="1.4"/>
<line x1="320.35" y1="283.40" x2="323.95" y2="283.40" stroke="#000" stroke-width="1.5999999999999999"/>
<rect x="314.00" y="286.10" width="16.30" height="10.20" fill="#a8a8a8" stroke="#000" stroke-width="1.5"/>
<text transform="translate(226.4,314.0) rotate(-33)" font-size="9.5">GFP</text>
<text transform="translate(243.9,314.8) rotate(-33)" font-size="9.5">GFP-</text>
<text transform="translate(251.7,321.5) rotate(-33)" font-size="9.5">7.5kDa</text>
<text transform="translate(275.9,315.5) rotate(-33)" font-size="9.5">GFP-</text>
<text transform="translate(289.9,315.8) rotate(-33)" font-size="9.5">NS1</text>
<text transform="translate(307.4,315.0) rotate(-33)" font-size="9.5">GFP-</text>
<text transform="translate(314.4,320.5) rotate(-33)" font-size="9.5">11kDa</text>
<text class="big" x="359.6" y="183.0" font-size="17.5" text-anchor="start" >F</text>
<text class="big" x="449.5" y="180.6" font-size="12.6" text-anchor="middle" textLength="64.8" lengthAdjust="spacing" >Normalized</text>
<text class="big" x="448.9" y="193.4" font-size="12.6" text-anchor="middle">CD36<tspan font-size="6.5" dy="-4.8">+</tspan><tspan dy="4.8"> EPCs/TX</tspan></text>
<text x="360.8" y="201.2" font-size="10" text-anchor="start" textLength="6.6" lengthAdjust="spacingAndGlyphs" >%</text>
<rect x="381.3" y="198.8" width="135.40" height="97.60" fill="none" stroke="#000" stroke-width="1.75"/>
<line x1="381.3" y1="296.40" x2="383.90000000000003" y2="296.40" stroke="#000" stroke-width="1"/>
<text x="376.2" y="299.35" font-size="9.3" text-anchor="end" >0</text>
<line x1="381.3" y1="275.50" x2="383.90000000000003" y2="275.50" stroke="#000" stroke-width="1"/>
<text x="376.2" y="278.45" font-size="9.3" text-anchor="end" >30</text>
<line x1="381.3" y1="254.60" x2="383.90000000000003" y2="254.60" stroke="#000" stroke-width="1"/>
<text x="376.2" y="257.55" font-size="9.3" text-anchor="end" >60</text>
<line x1="381.3" y1="233.70" x2="383.90000000000003" y2="233.70" stroke="#000" stroke-width="1"/>
<text x="376.2" y="236.65" font-size="9.3" text-anchor="end" >90</text>
<line x1="381.3" y1="212.80" x2="383.90000000000003" y2="212.80" stroke="#000" stroke-width="1"/>
<text x="376.2" y="215.75" font-size="9.3" text-anchor="end" >120</text>
<line x1="408.05" y1="293.30" x2="408.05" y2="291.30" stroke="#000" stroke-width="1.4"/>
<line x1="406.25" y1="291.30" x2="409.85" y2="291.30" stroke="#000" stroke-width="1.5999999999999999"/>
<rect x="399.60" y="293.30" width="16.90" height="3.10" fill="url(#p21)" stroke="#000" stroke-width="1.5"/>
<line x1="435.35" y1="288.90" x2="435.35" y2="285.80" stroke="#000" stroke-width="1.4"/>
<line x1="433.55" y1="285.80" x2="437.15" y2="285.80" stroke="#000" stroke-width="1.5999999999999999"/>
<rect x="426.90" y="288.90" width="16.90" height="7.50" fill="url(#p22)" stroke="#000" stroke-width="1.5"/>
<line x1="462.65" y1="249.00" x2="462.65" y2="241.30" stroke="#000" stroke-width="1.4"/>
<line x1="460.85" y1="241.30" x2="464.45" y2="241.30" stroke="#000" stroke-width="1.5999999999999999"/>
<rect x="454.20" y="249.00" width="16.90" height="47.40" fill="url(#p23)" stroke="#000" stroke-width="1.5"/>
<line x1="489.70" y1="226.90" x2="489.70" y2="216.70" stroke="#000" stroke-width="1.4"/>
<line x1="487.90" y1="216.70" x2="491.50" y2="216.70" stroke="#000" stroke-width="1.5999999999999999"/>
<rect x="481.50" y="226.90" width="16.40" height="69.50" fill="#a8a8a8" stroke="#000" stroke-width="1.5"/>
<text transform="translate(395.7,314.0) rotate(-33)" font-size="9.5">GFP</text>
<text transform="translate(413.2,314.8) rotate(-33)" font-size="9.5">GFP-</text>
<text transform="translate(421.0,321.5) rotate(-33)" font-size="9.5">7.5kDa</text>
<text transform="translate(445.2,315.5) rotate(-33)" font-size="9.5">GFP-</text>
<text transform="translate(459.2,315.8) rotate(-33)" font-size="9.5">NS1</text>
<text transform="translate(476.7,315.0) rotate(-33)" font-size="9.5">GFP-</text>
<text transform="translate(483.7,320.5) rotate(-33)" font-size="9.5">11kDa</text>
<text class="big" x="1.4" y="354.7" font-size="17.5" text-anchor="start" >G</text>
<text class="big" x="120.7" y="359.6" font-size="12.6" text-anchor="middle">CD36<tspan font-size="6.5" dy="-4.8">+</tspan><tspan dy="4.8"> EPCs/B19V</tspan></text>
<text x="5.8" y="370.2" font-size="10" text-anchor="start" textLength="6.6" lengthAdjust="spacingAndGlyphs" >%</text>
<rect x="34.1" y="366.9" width="177.60" height="114.40" fill="none" stroke="#000" stroke-width="1.75"/>
<line x1="34.1" y1="481.50" x2="36.7" y2="481.50" stroke="#000" stroke-width="1"/>
<text x="29.3" y="484.85" font-size="9.3" text-anchor="end" >0</text>
<line x1="34.1" y1="452.93" x2="36.7" y2="452.93" stroke="#000" stroke-width="1"/>
<text x="29.3" y="456.27" font-size="9.3" text-anchor="end" >20</text>
<line x1="34.1" y1="424.35" x2="36.7" y2="424.35" stroke="#000" stroke-width="1"/>
<text x="29.3" y="427.7" font-size="9.3" text-anchor="end" >40</text>
<line x1="34.1" y1="395.77" x2="36.7" y2="395.77" stroke="#000" stroke-width="1"/>
<text x="29.3" y="399.12" font-size="9.3" text-anchor="end" >60</text>
<line x1="34.1" y1="367.20" x2="36.7" y2="367.20" stroke="#000" stroke-width="1"/>
<text x="29.3" y="370.55" font-size="9.3" text-anchor="end" >80</text>
<text transform="translate(10.9,424.9) rotate(-90)" font-size="9.6" text-anchor="middle">TUNEL +</text>
<text x="68.8" y="495.6" font-size="9.2" text-anchor="middle" >24</text>
<text x="123.5" y="495.6" font-size="9.2" text-anchor="middle" >48</text>
<text x="175.6" y="495.6" font-size="9.2" text-anchor="middle" >72</text>
<text x="122.9" y="507.9" font-size="9.4" text-anchor="middle" >hrs p.i.</text>
<rect x="52.20" y="480.60" width="11.00" height="0.70" fill="#000" stroke="#000" stroke-width="1.1"/>
<rect x="63.90" y="474.40" width="10.50" height="6.90" fill="url(#p24)" stroke="#000" stroke-width="1.1"/>
<rect x="75.50" y="454.30" width="10.10" height="27.00" fill="#c0c0c0" stroke="#000" stroke-width="1.1"/>
<rect x="106.00" y="480.50" width="11.00" height="0.80" fill="#000" stroke="#000" stroke-width="1.1"/>
<rect x="118.00" y="451.20" width="10.40" height="30.10" fill="url(#p25)" stroke="#000" stroke-width="1.1"/>
<rect x="129.50" y="406.40" width="10.00" height="74.90" fill="#c0c0c0" stroke="#000" stroke-width="1.1"/>
<rect x="159.60" y="479.80" width="11.00" height="1.50" fill="#000" stroke="#000" stroke-width="1.1"/>
<line x1="176.80" y1="442.20" x2="176.80" y2="437.60" stroke="#000" stroke-width="1.2"/>
<line x1="174.80" y1="437.60" x2="178.80" y2="437.60" stroke="#000" stroke-width="1.4"/>
<rect x="171.60" y="442.20" width="10.40" height="39.10" fill="url(#p26)" stroke="#000" stroke-width="1.1"/>
<line x1="188.40" y1="392.30" x2="188.40" y2="388.90" stroke="#000" stroke-width="1.2"/>
<line x1="186.40" y1="388.90" x2="190.40" y2="388.90" stroke="#000" stroke-width="1.4"/>
<rect x="183.40" y="392.30" width="10.00" height="89.00" fill="#c0c0c0" stroke="#000" stroke-width="1.1"/>
<rect x="41.20" y="376.80" width="19.60" height="5.80" fill="#000" stroke="#000" stroke-width="1.2"/>
<text x="63.8" y="382.9" font-size="9.4" text-anchor="start" >Mock</text>
<rect x="41.20" y="389.80" width="19.60" height="5.80" fill="url(#p27)" stroke="#000" stroke-width="1.2"/>
<text x="63.8" y="395.8" font-size="9.4" text-anchor="start" >Capsid(-)</text>
<rect x="41.20" y="401.90" width="19.60" height="5.80" fill="#c0c0c0" stroke="#000" stroke-width="1.2"/>
<text x="63.8" y="407.5" font-size="9.4" text-anchor="start" >Capsid+</text>
</svg>
</body></html>
